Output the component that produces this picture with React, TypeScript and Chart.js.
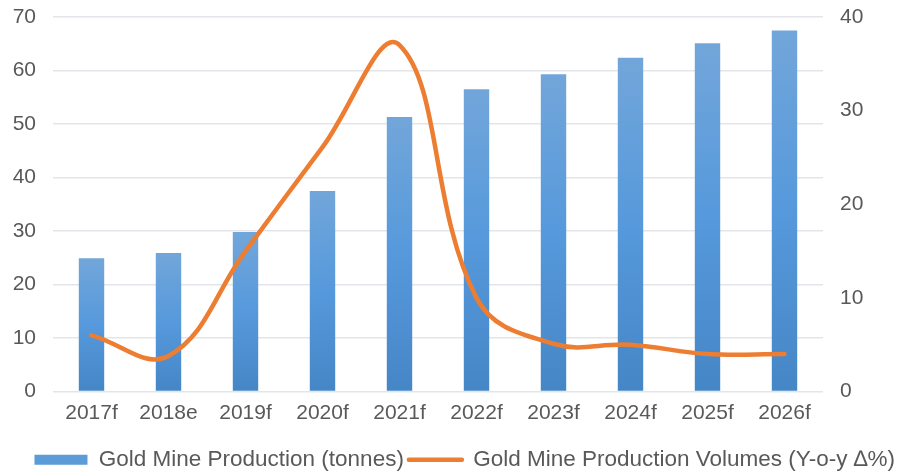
import React, { useEffect, useRef } from "react";
import { Chart, registerables } from "chart.js";

Chart.register(...registerables);

// Categories and series
const years = ["2017f", "2018e", "2019f", "2020f", "2021f", "2022f", "2023f", "2024f", "2025f", "2026f"];
const productionTonnes = [24.9, 25.9, 29.8, 37.5, 51.3, 56.5, 59.3, 62.4, 65.1, 67.5];
const yoyChangePct = [6.0, 3.8, 15.0, 26.1, 37.0, 10.0, 5.1, 5.0, 4.0, 4.0];

const barLabel = "Gold Mine Production (tonnes)";
const lineLabel = "Gold Mine Production Volumes (Y-o-y \u2206%)";

const FONT = "'Liberation Sans', Arial, sans-serif";
const TEXT = "#595959";
const GRID = "#e2e5ea";
const ORANGE = "#ED7D31";

// Vertical gradient for each bar, lighter at its top, darker at its base
function barGradient(ctx: any) {
  const chart = ctx.chart;
  const area = chart.chartArea;
  const yScale = chart.scales?.y;
  if (!area || !yScale || ctx.type !== "data") return "#5a9bd8";
  const v = productionTonnes[ctx.dataIndex];
  const top = yScale.getPixelForValue(v);
  const base = yScale.getPixelForValue(0);
  const g = chart.ctx.createLinearGradient(0, top, 0, base);
  g.addColorStop(0, "#72a6da");
  g.addColorStop(0.5, "#5699dc");
  g.addColorStop(1, "#4586c6");
  return g;
}

// Fixed width for a value axis; its label overhang is handled by the layout padding
const fixAxis = (width: number) => (s: any) => {
  s.width = width;
  s.paddingTop = 0;
  s.paddingBottom = 0;
};

export default function App() {
  const canvasRef = useRef<HTMLCanvasElement | null>(null);

  useEffect(() => {
    if (!canvasRef.current) return;
    const chart = new Chart(canvasRef.current, {
      type: "bar",
      data: {
        labels: years,
        datasets: [
          {
            type: "line",
            label: lineLabel,
            data: yoyChangePct,
            yAxisID: "y1",
            borderColor: ORANGE,
            backgroundColor: ORANGE,
            borderWidth: 4.5,
            borderCapStyle: "round",
            pointRadius: 0,
            pointHoverRadius: 0,
            tension: 0.4,
            fill: false,
            order: 0,
          },
          {
            type: "bar",
            label: barLabel,
            data: productionTonnes,
            yAxisID: "y",
            backgroundColor: barGradient,
            borderWidth: 0,
            barPercentage: 0.33,
            categoryPercentage: 1,
            order: 1,
          },
        ],
      },
      options: {
        animation: false,
        responsive: true,
        maintainAspectRatio: false,
        layout: { padding: { top: 17, bottom: -9, left: 0, right: 0 } },
        plugins: {
          tooltip: { enabled: false },
          legend: {
            position: "bottom",
            align: "end",
            labels: {
              color: TEXT,
              font: { family: FONT, size: 22.5 },
              usePointStyle: true,
              pointStyleWidth: 53,
              boxHeight: 10,
              padding: 5,
              generateLabels: () => [
                {
                  text: barLabel,
                  fillStyle: "#5a9bd8",
                  strokeStyle: "rgba(0,0,0,0)",
                  lineWidth: 0,
                  pointStyle: "rect",
                  fontColor: TEXT,
                  datasetIndex: 1,
                },
                {
                  text: lineLabel,
                  fillStyle: ORANGE,
                  strokeStyle: ORANGE,
                  lineWidth: 4.5,
                  lineCap: "round",
                  pointStyle: "line",
                  fontColor: TEXT,
                  datasetIndex: 0,
                },
              ],
            },
          },
        },
        scales: {
          x: {
            offset: true,
            grid: { display: false },
            border: { display: false },
            ticks: { color: TEXT, font: { family: FONT, size: 21 }, padding: 1, maxRotation: 0 },
            afterFit: (s: any) => {
              s.height = 52;
            },
          },
          y: {
            position: "left",
            min: 0,
            max: 70,
            ticks: { stepSize: 10, color: TEXT, font: { family: FONT, size: 21 }, padding: 17 },
            grid: { color: GRID, lineWidth: 1.5, drawTicks: false },
            border: { display: false },
            afterFit: fixAxis(53),
          },
          y1: {
            position: "right",
            min: 0,
            max: 40,
            ticks: { stepSize: 10, color: TEXT, font: { family: FONT, size: 21 }, padding: 17 },
            grid: { display: false, drawTicks: false },
            border: { display: false },
            afterFit: fixAxis(77),
          },
        },
      },
    });
    return () => chart.destroy();
  }, []);

  return (
    <div style={{ position: "absolute", left: 0, top: 0, width: 900, height: 472, background: "#fff" }}>
      <canvas ref={canvasRef} />
    </div>
  );
}
